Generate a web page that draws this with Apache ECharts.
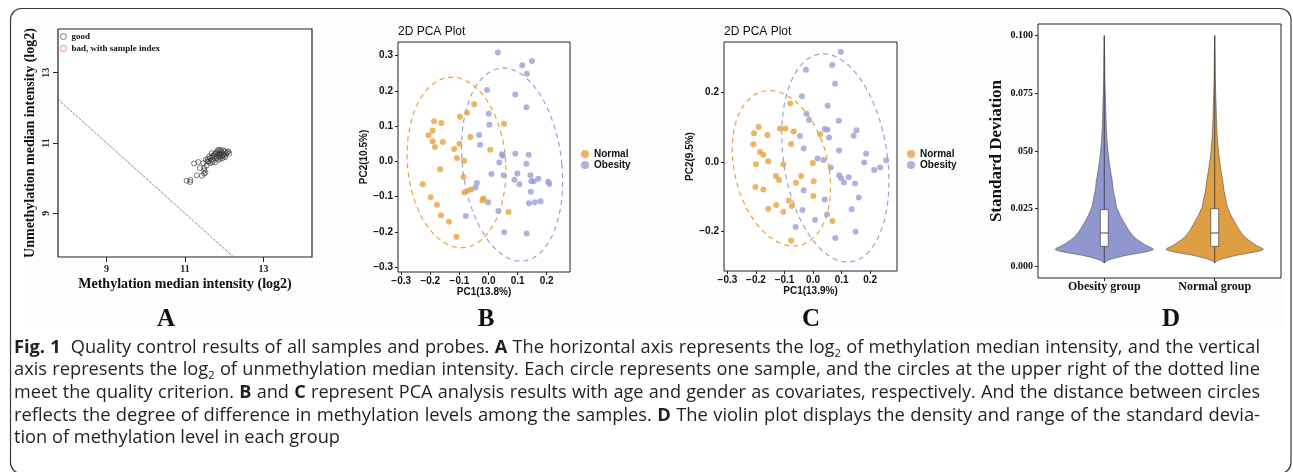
<!DOCTYPE html>
<html><head><meta charset="utf-8">
<script src="https://cdn.jsdelivr.net/npm/echarts@6/dist/echarts.min.js"></script>
<style>html,body{margin:0;padding:0;background:#fff;}#c{width:1293px;height:472px;}</style>
</head><body><div id="c"></div>
<script>
// ---------- Panel A: QC (methylation vs unmethylation median intensity, log2) ----------
const qcGood = [
  [11.04,9.93],[11.13,9.89],[11.14,9.95],[11.30,10.08],[11.43,10.07],[11.49,10.13],
  [11.23,10.42],[11.34,10.46],[11.38,10.29],[11.49,10.29],[11.47,10.43],[11.53,10.52],
  [11.60,10.48],[11.55,10.36],[11.49,10.22],[11.52,10.16],[11.64,10.57],[11.72,10.64],
  [11.79,10.70],[11.85,10.76],[11.89,10.81],[11.94,10.73],[11.98,10.79],[11.81,10.57],
  [11.89,10.62],[12.00,10.64],[12.05,10.70],[12.11,10.76],[12.13,10.70],[11.72,10.52],
  [11.77,10.45],[11.85,10.52],[11.91,10.67],[11.64,10.43],[11.77,10.62],[11.88,10.71],
  [11.96,10.57],[12.02,10.76],[11.68,10.71],[11.58,10.55],[11.66,10.50],[11.70,10.60],
  [11.75,10.68],[11.83,10.66],[11.86,10.60],[11.92,10.78],[11.95,10.62],[11.80,10.74],
  [11.90,10.55],[12.08,10.74],[11.62,10.62],[11.70,10.45],[11.57,10.47],[11.84,10.80],
  [11.98,10.68],[12.03,10.60]
];
const qcBad = [];
const qcCutLine = [[7.76,12.24],[12.24,7.76]];
const qcTicks = [9, 11, 13];

// ---------- Panel B: PCA (age as covariate) ----------
const pcaBNormal = [
  [-0.049,0.162],[-0.074,0.138],[-0.098,0.127],[-0.187,0.114],[-0.162,0.109],[-0.192,0.088],
  [-0.206,0.074],[-0.192,0.057],[-0.157,0.055],[-0.184,0.041],[-0.062,0.069],[-0.100,0.050],
  [-0.118,0.035],[-0.109,0.010],[-0.084,0.002],[0.006,0.033],[0.053,0.107],[-0.166,-0.022],
  [-0.086,-0.044],[-0.226,-0.065],[-0.199,-0.102],[-0.177,-0.123],[-0.163,-0.153],[-0.136,-0.171],
  [-0.110,-0.214],[-0.083,-0.088],[-0.072,-0.083],[-0.060,-0.080],[-0.017,-0.105],[-0.021,-0.110],
  [0.069,-0.144]
];
const pcaBObesity = [
  [0.032,0.309],[0.116,0.273],[0.149,0.285],[0.132,0.249],[-0.005,0.203],[0.092,0.190],
  [0.130,0.154],[0.001,0.135],[0.003,0.104],[-0.032,0.075],[-0.029,0.047],[0.046,0.020],
  [0.049,0.016],[0.037,-0.003],[0.092,0.022],[0.138,0.019],[0.130,-0.007],[0.010,-0.036],
  [0.052,-0.039],[0.099,-0.034],[0.144,-0.039],[0.089,-0.052],[0.106,-0.065],[0.147,-0.056],
  [0.155,-0.056],[0.171,-0.049],[0.205,-0.058],[0.209,-0.064],[-0.040,-0.061],[-0.045,-0.074],
  [0.145,-0.086],[0.139,-0.119],[0.159,-0.116],[0.179,-0.113],[-0.002,-0.116],[0.034,-0.141],
  [-0.078,-0.155],[0.054,-0.201],[0.131,-0.205]
];
// ellipse: [centerX, centerY, radiusX, radiusY, shearX]
const pcaBEllipseNormal = [-0.110, -0.003, 0.169, 0.242, 0.016];
const pcaBEllipseObesity = [0.081, -0.009, 0.171, 0.274, 0.030];
const pcaBXTicks = [-0.3,-0.2,-0.1,0,0.1,0.2];
const pcaBYTicks = [-0.3,-0.2,-0.1,0,0.1,0.2,0.3];

// ---------- Panel C: PCA (gender as covariate) ----------
const pcaCNormal = [
  [-0.080,0.169],[-0.191,0.101],[-0.116,0.097],[-0.097,0.097],[-0.207,0.083],[-0.160,0.078],
  [-0.068,0.088],[0.025,0.080],[-0.209,0.051],[-0.077,0.052],[-0.186,0.029],[-0.174,0.021],
  [-0.200,-0.006],[-0.157,0.002],[-0.104,-0.006],[-0.001,-0.003],[-0.130,-0.040],[-0.119,-0.052],
  [-0.042,-0.040],[-0.060,-0.060],[0.002,-0.055],[-0.202,-0.072],[-0.174,-0.079],[0.001,-0.098],
  [-0.085,-0.111],[-0.074,-0.127],[-0.129,-0.124],[-0.157,-0.135],[-0.104,-0.143],[0.068,-0.170],
  [-0.077,-0.226]
];
const pcaCObesity = [
  [0.097,0.318],[-0.025,0.266],[0.067,0.280],[0.077,0.226],[-0.039,0.190],[0.051,0.162],
  [-0.023,0.139],[-0.014,0.121],[0.041,0.095],[0.050,0.093],[0.090,0.119],[-0.046,0.075],
  [0.056,0.071],[0.142,0.076],[0.152,0.092],[-0.033,0.039],[0.091,0.033],[0.016,0.010],
  [0.037,0.006],[0.062,-0.016],[0.186,0.024],[0.179,-0.001],[0.256,0.005],[0.235,-0.016],
  [0.214,-0.023],[0.091,-0.038],[0.098,-0.047],[0.108,-0.059],[0.125,-0.044],[0.147,-0.062],
  [-0.033,-0.081],[0.160,-0.102],[0.041,-0.108],[-0.037,-0.138],[0.135,-0.136],[0.049,-0.151],
  [0.007,-0.166],[-0.061,-0.187],[0.149,-0.201],[0.078,-0.219]
];
const pcaCEllipseNormal = [-0.111, -0.018, 0.167, 0.224, 0.042];
const pcaCEllipseObesity = [0.078, 0.012, 0.183, 0.300, 0.042];
const pcaCXTicks = [-0.3,-0.2,-0.1,0,0.1,0.2];
const pcaCYTicks = [-0.2,0,0.2];

// ---------- Panel D: violin of standard deviation ----------
const violinGroups = ['Obesity group','Normal group'];
const violinPos = [1, 2];
const violinY = [0.0015,0.0025,0.0033,0.0040,0.0048,0.0055,0.0063,0.0068,0.0073,0.0078,0.0085,0.0091,
  0.0102,0.0113,0.0127,0.0142,0.0160,0.0185,0.022,0.0258,0.030,0.033,0.037,0.040,0.045,0.050,
  0.055,0.060,0.065,0.070,0.075,0.080,0.090,0.100];
const violinHalfObesity = [0,0.027,0.072,0.127,0.199,0.281,0.371,0.420,0.444,0.438,0.405,0.380,
  0.344,0.308,0.272,0.244,0.217,0.186,0.145,0.111,0.095,0.081,0.072,0.061,0.045,0.033,
  0.024,0.018,0.015,0.012,0.009,0.006,0.004,0];
const violinHalfNormal = [0,0.025,0.070,0.125,0.196,0.278,0.366,0.415,0.440,0.434,0.402,0.378,
  0.343,0.309,0.274,0.247,0.220,0.190,0.149,0.114,0.097,0.083,0.073,0.062,0.046,0.034,
  0.025,0.019,0.015,0.012,0.009,0.006,0.004,0];
// box stats: [min, q1, median, q3, max]
const boxObesity = [0.0015,0.0087,0.0145,0.0246,0.100];
const boxNormal  = [0.0015,0.0087,0.0145,0.0250,0.100];
const sdTickValues = [0, 0.025, 0.05, 0.075, 0.1];
const sdTickLabels = ['0.000','0.025','050','0.075','0.100'];

// ---------- Caption ----------
const captionLines = [
  '*Fig.* *1*  Quality control results of all samples and probes. *A* The horizontal axis represents the log_2 of methylation median intensity, and the vertical',
  'axis represents the log_2 of unmethylation median intensity. Each circle represents one sample, and the circles at the upper right of the dotted line',
  'meet the quality criterion. *B* and *C* represent PCA analysis results with age and gender as covariates, respectively. And the distance between circles',
  'reflects the degree of difference in methylation levels among the samples. *D* The violin plot displays the density and range of the standard devia-',
  'tion of methylation level in each group'
];
const panelLetters = ['A','B','C','D'];

// =====================================================================
const ORANGE = '#E6A23C', LAV = '#9B9ED9';
const VIOLET_FILL = '#8F97CE', ORANGE_FILL = '#DE9E44';
const SERIF = 'Liberation Serif', SANS = 'Liberation Sans';

function ellipsePoints(e){
  const pts = [];
  for (let k = 0; k <= 120; k++){
    const t = k / 120 * Math.PI * 2;
    pts.push([e[0] + e[2]*Math.cos(t) - e[4]*Math.sin(t), e[1] + e[3]*Math.sin(t)]);
  }
  return pts;
}
function pcaLabel(v){ const s = Math.abs(v).toFixed(1); return v < -1e-9 ? '\u2212' + s : s; }

function pcaAxisX(gi, min, max, ticks, name){
  return {gridIndex: gi, type:'value', min, max,
    axisLine:{show:false, onZero:false}, splitLine:{show:false},
    axisTick:{show:true, length:3, customValues: ticks, lineStyle:{color:'#222', width:1}},
    axisLabel:{customValues: ticks, formatter: pcaLabel, margin:4, fontFamily:SANS, fontWeight:'bold', fontSize:10, color:'#111'},
    name, nameLocation:'middle', nameGap:14,
    nameTextStyle:{fontFamily:SANS, fontWeight:'bold', fontSize:10, color:'#111'}};
}
function pcaAxisY(gi, min, max, ticks, name, gap){
  return {gridIndex: gi, type:'value', min, max,
    axisLine:{show:false, onZero:false}, splitLine:{show:false},
    axisTick:{show:true, length:3, customValues: ticks, lineStyle:{color:'#222', width:1}},
    axisLabel:{customValues: ticks, formatter: pcaLabel, margin:5, fontFamily:SANS, fontWeight:'bold', fontSize:10, color:'#111'},
    name, nameLocation:'middle', nameGap:gap,
    nameTextStyle:{fontFamily:SANS, fontWeight:'bold', fontSize:10, color:'#111'}};
}

function renderViolin(params, api){
  const i = params.dataIndex;
  const xc = api.value(0);
  const half = i === 0 ? violinHalfObesity : violinHalfNormal;
  const box = i === 0 ? boxObesity : boxNormal;
  const fill = i === 0 ? VIOLET_FILL : ORANGE_FILL;
  const right = violinY.map((y,k) => api.coord([xc + half[k], y]));
  const left = violinY.map((y,k) => api.coord([xc - half[k], y])).reverse();
  const bw = 0.036;
  const a = api.coord([xc - bw, box[3]]), b = api.coord([xc + bw, box[1]]);
  const m1 = api.coord([xc - bw, box[2]]), m2 = api.coord([xc + bw, box[2]]);
  const w1 = api.coord([xc, box[0]]), w2 = api.coord([xc, box[4]]);
  return {type:'group', children:[
    {type:'polygon', shape:{points: right.concat(left)}, style:{fill, stroke:'#505050', lineWidth:0.6}},
    {type:'line', shape:{x1:w1[0], y1:w1[1], x2:w2[0], y2:w2[1]}, style:{stroke:'#333', lineWidth:0.8}},
    {type:'rect', shape:{x:a[0], y:a[1], width:b[0]-a[0], height:b[1]-a[1]}, style:{fill:'#fff', stroke:'#444', lineWidth:0.7}},
    {type:'line', shape:{x1:m1[0], y1:m1[1], x2:m2[0], y2:m2[1]}, style:{stroke:'#333', lineWidth:0.9}}
  ]};
}

// ---------- caption layout (justified), measured with zrender's own text metrics ----------
const CAP_FONT = 'Open Sans';
const _twCache = {};
function tw(t, fs, bold){
  const key = t + '|' + fs + '|' + bold;
  if (_twCache[key] !== undefined) return _twCache[key];
  const el = new echarts.graphic.Text({style:{text:t, fontFamily:CAP_FONT, fontSize:fs, fontWeight: bold ? 'bold' : 'normal'}});
  const w = el.getBoundingRect().width;
  _twCache[key] = w;
  return w;
}
function spaceWidth(fs){ return tw('n n', fs, false) - tw('nn', fs, false); }
function parseWord(w){
  let bold = false;
  if (w.length > 2 && w[0] === '*' && w[w.length-1] === '*'){ bold = true; w = w.slice(1,-1); }
  const idx = w.indexOf('_');
  if (idx < 0) return [{t:w, bold}];
  return [{t:w.slice(0,idx), bold}, {t:w.charAt(idx+1), bold, sub:true}, {t:w.slice(idx+2), bold}].filter(p => p.t.length);
}
function layoutLine(line, fs){
  const spaceW = spaceWidth(fs);
  const subFs = fs * 0.62;
  const raw = line.split(' ');
  const words = []; let extra = 0;
  raw.forEach(r => { if (r === '') extra += spaceW; else words.push(parseWord(r)); });
  const widths = words.map(parts => parts.reduce((s,p) => s + tw(p.t, p.sub ? subFs : fs, p.bold), 0));
  const natural = widths.reduce((s,w) => s + w, 0) + spaceW * (words.length - 1) + extra;
  return {words, natural, spaceW, subFs, extra};
}
function buildCaption(){
  const els = [];
  const x0 = 14, x1 = 1260, lead = 22.7, yTop = 347.5;
  const base = 17;
  // per-line font size so each justified line needs only slight word-gap stretching
  const sizes = captionLines.map((l, li) => {
    if (li === captionLines.length - 1) return null;
    const nat = layoutLine(l, base).natural;
    return Math.min(19, base * (x1 - x0) * 0.99 / nat);
  });
  const valid = sizes.filter(s => s);
  const avg = valid.reduce((s,v) => s + v, 0) / valid.length;
  captionLines.forEach((line, li) => {
    const fs = sizes[li] || avg;
    const L = layoutLine(line, fs);
    const last = li === captionLines.length - 1;
    const gapExtra = last ? 0 : Math.max(0, (x1 - x0 - L.natural) / (L.words.length - 1));
    let x = x0;
    const y = yTop + li * lead;
    L.words.forEach((parts, wi) => {
      parts.forEach(p => {
        const f = p.sub ? L.subFs : fs;
        els.push({type:'text', x, y: p.sub ? y + 6 : y, silent:true,
          style:{text:p.t, fontFamily:CAP_FONT, fontSize:f, fontWeight:p.bold ? 'bold' : 'normal',
            fill:'#231f20', verticalAlign:'middle', align:'left'}});
        x += tw(p.t, f, p.bold);
      });
      x += L.spaceW + gapExtra;
      if (wi === 1 && li === 0) x += L.extra;
    });
  });
  return els;
}

const letterPos = [[166,320],[486,320],[811,320],[1171,320]];
const graphics = [
  {type:'rect', z:-5, silent:true, shape:{x:25, y:13, width:1258, height:315}, style:{fill:'#fdfdfb'}},
  {type:'rect', silent:true, shape:{x:10.5, y:8.5, width:1280.5, height:465, r:11}, style:{fill:'none', stroke:'#3a3a3a', lineWidth:1.2}}
].concat(panelLetters.map((t,i) => ({type:'text', x:letterPos[i][0], y:letterPos[i][1], silent:true,
  style:{text:t, fontFamily:SERIF, fontWeight:'bold', fontSize:25, fill:'#111', align:'center', verticalAlign:'middle'}})))
 .concat(buildCaption());

const chart = echarts.init(document.getElementById('c'));
chart.setOption({
  animation:false,
  backgroundColor:'#ffffff',
  title:[
    {text:'2D PCA Plot', left:398, top:25, padding:0, textStyle:{fontFamily:SANS, fontSize:12, fontWeight:'normal', color:'#111', lineHeight:14}},
    {text:'2D PCA Plot', left:724, top:25, padding:0, textStyle:{fontFamily:SANS, fontSize:12, fontWeight:'normal', color:'#111', lineHeight:14}}
  ],
  legend:[
    {left:60, top:32, padding:0, orient:'vertical', selectedMode:false, itemWidth:6, itemHeight:6, itemGap:3,
      data:[
        {name:'good', icon:'circle', itemStyle:{color:'rgba(0,0,0,0)', borderColor:'#333', borderWidth:0.8}},
        {name:'bad, with sample index', icon:'circle', itemStyle:{color:'rgba(0,0,0,0)', borderColor:'#e0413c', borderWidth:0.8}}
      ],
      textStyle:{fontFamily:SERIF, fontWeight:'bold', fontSize:9, color:'#111', lineHeight:8}},
    {left:581, top:149, padding:0, orient:'vertical', selectedMode:false, itemWidth:8, itemHeight:8, itemGap:1, icon:'circle',
      data:['Normal','Obesity'], textStyle:{fontFamily:SANS, fontWeight:'bold', fontSize:10, color:'#111', lineHeight:9}},
    {left:907, top:149, padding:0, orient:'vertical', selectedMode:false, itemWidth:8, itemHeight:8, itemGap:1, icon:'circle',
      data:['Normal','Obesity'], textStyle:{fontFamily:SANS, fontWeight:'bold', fontSize:10, color:'#111', lineHeight:9}}
  ],
  grid:[
    {left:58, top:29, width:254, height:228, show:true, borderColor:'#222', borderWidth:1.2, backgroundColor:'#fff', outerBoundsMode:'none'},
    {left:398, top:42, width:172, height:230, show:true, borderColor:'#222', borderWidth:1, backgroundColor:'#fff', outerBoundsMode:'none'},
    {left:724, top:42, width:173, height:229, show:true, borderColor:'#222', borderWidth:1, backgroundColor:'#fff', outerBoundsMode:'none'},
    {left:1038, top:24, width:243, height:254, show:true, borderColor:'#222', borderWidth:1, backgroundColor:'#fff', outerBoundsMode:'none'}
  ],
  xAxis:[
    {gridIndex:0, type:'value', min:7.76, max:14.24, axisLine:{show:false, onZero:false}, splitLine:{show:false},
      axisTick:{show:true, length:5, customValues:qcTicks, lineStyle:{color:'#222'}},
      axisLabel:{customValues:qcTicks, margin:7, fontFamily:SERIF, fontSize:10, fontWeight:'bold', color:'#222'},
      name:'Methylation median intensity (log2)', nameLocation:'middle', nameGap:20,
      nameTextStyle:{fontFamily:SERIF, fontWeight:'bold', fontSize:14, color:'#111'}},
    pcaAxisX(1, -0.311, 0.280, pcaBXTicks, 'PC1(13.8%)'),
    pcaAxisX(2, -0.312, 0.294, pcaCXTicks, 'PC1(13.9%)'),
    {gridIndex:3, type:'value', min:0.4, max:2.6, axisLine:{show:false, onZero:false}, splitLine:{show:false},
      axisTick:{show:true, length:3, customValues:violinPos, lineStyle:{color:'#222'}},
      axisLabel:{customValues:violinPos, formatter: v => violinGroups[Math.round(v)-1], margin:3,
        fontFamily:SERIF, fontWeight:'bold', fontSize:12, color:'#111'}}
  ],
  yAxis:[
    {gridIndex:0, type:'value', min:7.76, max:14.24, axisLine:{show:false, onZero:false}, splitLine:{show:false},
      axisTick:{show:true, length:5, customValues:qcTicks, lineStyle:{color:'#222'}},
      axisLabel:{customValues:qcTicks, rotate:90, margin:7, fontFamily:SERIF, fontSize:10, fontWeight:'bold', color:'#222'},
      name:'Unmethylation median intensity (log2)', nameLocation:'middle', nameGap:21,
      nameTextStyle:{fontFamily:SERIF, fontWeight:'bold', fontSize:14, color:'#111'}},
    pcaAxisY(1, -0.314, 0.339, pcaBYTicks, 'PC2(10.5%)', 19),
    pcaAxisY(2, -0.314, 0.346, pcaCYTicks, 'PC2(9.5%)', 23),
    {gridIndex:3, type:'value', min:-0.005, max:0.105, axisLine:{show:false, onZero:false}, splitLine:{show:false},
      axisTick:{show:true, length:3, customValues:sdTickValues, lineStyle:{color:'#222'}},
      axisLabel:{customValues:sdTickValues, margin:5,
        formatter: v => sdTickLabels[sdTickValues.findIndex(t => Math.abs(t - v) < 1e-9)],
        fontFamily:SERIF, fontWeight:'bold', fontSize:10, color:'#111'},
      name:'Standard Deviation', nameLocation:'middle', nameGap:33,
      nameTextStyle:{fontFamily:SERIF, fontWeight:'bold', fontSize:17, color:'#111'}}
  ],
  series:[
    {name:'cutoff', type:'line', xAxisIndex:0, yAxisIndex:0, data:qcCutLine, showSymbol:false, silent:true,
      lineStyle:{type:'dotted', color:'#555', width:1}},
    {name:'good', type:'scatter', xAxisIndex:0, yAxisIndex:0, data:qcGood, symbol:'circle', symbolSize:5,
      itemStyle:{color:'rgba(0,0,0,0)', borderColor:'#333', borderWidth:0.8}},
    {name:'bad, with sample index', type:'scatter', xAxisIndex:0, yAxisIndex:0, data:qcBad, symbolSize:5,
      itemStyle:{color:'rgba(0,0,0,0)', borderColor:'#e0413c', borderWidth:0.8}},

    {name:'Normal', type:'scatter', xAxisIndex:1, yAxisIndex:1, data:pcaBNormal, symbolSize:6, itemStyle:{color:ORANGE}},
    {name:'Obesity', type:'scatter', xAxisIndex:1, yAxisIndex:1, data:pcaBObesity, symbolSize:6, itemStyle:{color:LAV}},
    {name:'B ellipse normal', type:'line', xAxisIndex:1, yAxisIndex:1, data:ellipsePoints(pcaBEllipseNormal), showSymbol:false, silent:true,
      lineStyle:{color:ORANGE, width:1.2, type:[5,4]}},
    {name:'B ellipse obesity', type:'line', xAxisIndex:1, yAxisIndex:1, data:ellipsePoints(pcaBEllipseObesity), showSymbol:false, silent:true,
      lineStyle:{color:LAV, width:1.2, type:[5,4]}},

    {name:'Normal', type:'scatter', xAxisIndex:2, yAxisIndex:2, data:pcaCNormal, symbolSize:6, itemStyle:{color:ORANGE}},
    {name:'Obesity', type:'scatter', xAxisIndex:2, yAxisIndex:2, data:pcaCObesity, symbolSize:6, itemStyle:{color:LAV}},
    {name:'C ellipse normal', type:'line', xAxisIndex:2, yAxisIndex:2, data:ellipsePoints(pcaCEllipseNormal), showSymbol:false, silent:true,
      lineStyle:{color:ORANGE, width:1.2, type:[5,4]}},
    {name:'C ellipse obesity', type:'line', xAxisIndex:2, yAxisIndex:2, data:ellipsePoints(pcaCEllipseObesity), showSymbol:false, silent:true,
      lineStyle:{color:LAV, width:1.2, type:[5,4]}},

    {name:'violin', type:'custom', xAxisIndex:3, yAxisIndex:3, renderItem:renderViolin,
      data: violinPos.map((p,i) => [p, (i === 0 ? boxObesity : boxNormal)[2]]), silent:true}
  ],
  graphic: graphics
});
</script></body></html>
